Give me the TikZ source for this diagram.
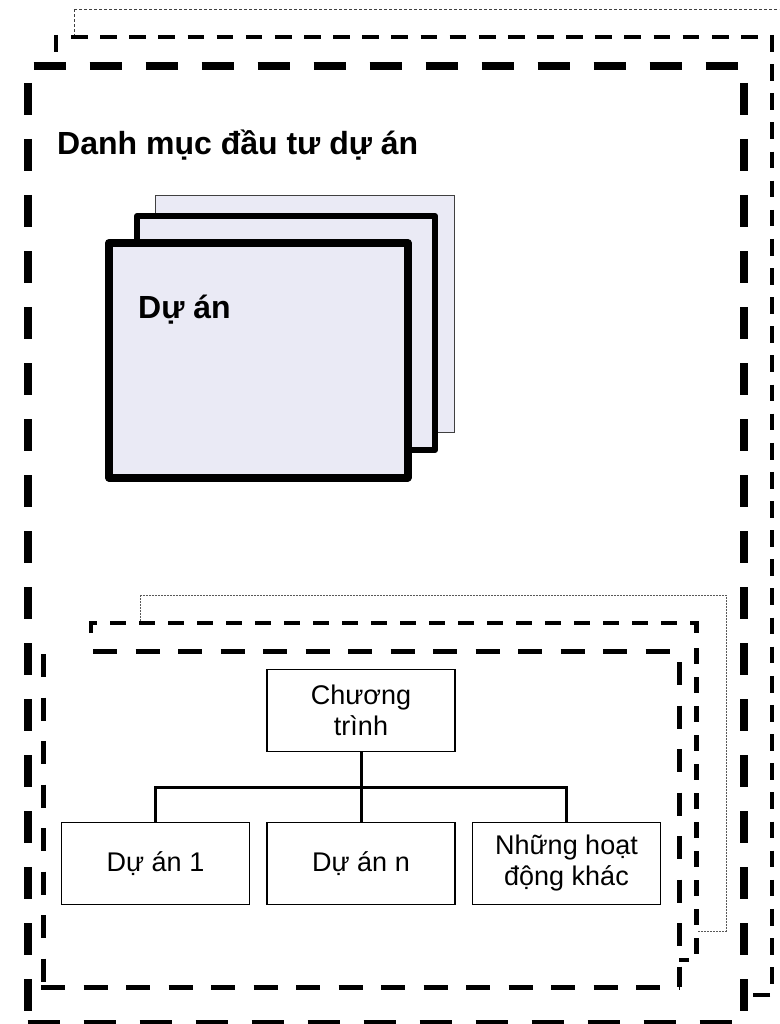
\documentclass[tikz,border=0pt]{standalone}
\usepackage{fontspec}
\setmainfont{Liberation Sans}
\definecolor{lav}{RGB}{234,234,245}
\begin{document}
\begin{tikzpicture}[x=1pt,y=-1pt,
  bigback/.style={draw=black!75, line width=1pt, dash pattern=on 3pt off 2pt, fill=white},
  bigmid/.style={draw=black, line width=4pt, dash pattern=on 16.7pt off 12.43pt},
  bigfront/.style={draw=black, line width=8pt, dash pattern=on 32pt off 24pt},
  smallback/.style={draw=black!65, line width=1pt, dash pattern=on 1.6pt off 1.4pt, fill=white},
  smallmid/.style={draw=black, line width=4.5pt, dash pattern=on 16pt off 13pt},
  smallcorner/.style={draw=black, line width=4.5pt, line join=miter},
  smallfronth/.style={draw=black, line width=5pt, dash pattern=on 24pt off 18.5pt},
  smallfrontv/.style={draw=black, line width=5pt, dash pattern=on 23pt off 20.5pt},
  pagethin/.style={draw=black!75, line width=1pt, fill=lav},
  pagemid/.style={draw=black, line width=6pt, line join=round, fill=lav},
  pagefront/.style={draw=black, line width=8pt, line join=round, fill=lav},
  orgbox/.style={draw=black, line width=1.5pt, fill=white, minimum width=188pt, minimum height=82pt, inner sep=2pt, align=center, font=\fontsize{27}{31}\selectfont},
  conn/.style={draw=black, line width=3pt},
  bigtitle/.style={font=\fontsize{32}{38}\selectfont\bfseries, inner sep=0pt, anchor=base west}
]
\clip (0,0) rectangle (779,1024);
\fill[white] (0,0) rectangle (779,1024);
% ---- big stacked frames ----
\path[bigback] (74,9.5) rectangle (790,1040);
% middle frame
\fill[white] (55.5,37) rectangle (771.5,995);
\draw[bigmid] (71,37) -- (771.5,37);
\draw[bigmid] (55.5,35) -- (55.5,995);
\draw[bigmid] (771.5,35) -- (771.5,995);
\draw[bigmid] (770,995) -- (55.5,995);
% front frame
\fill[white] (27.5,66) rectangle (743.5,1024);
\draw[bigfront] (33.5,66) -- (743.5,66);
\draw[bigfront] (27.5,83) -- (27.5,1024);
\draw[bigfront] (743.5,83) -- (743.5,1024);
\draw[bigfront] (27.5,1024) -- (743.5,1024);
\node[bigtitle] (title) at (57,155) {Danh mục đầu tư dự án};
% ---- project pages ----
\path[pagethin] (155,196) rectangle (454,432);
\path[pagemid] (137,216) rectangle (435,450);
\path[pagefront] (109,243) rectangle (407.5,477.5);
\node[bigtitle] (duan) at (138,318) {Dự án};
% ---- program stacked frames ----
\path[smallback] (140,595) rectangle (726,931);
\fill[white] (91,623) rectangle (696.5,960);
\draw[smallcorner] (91,633) -- (91,623) -- (97,623);
\draw[smallmid] (110,623) -- (690,623);
\draw[smallcorner] (690,623) -- (696.5,623) -- (696.5,633);
\draw[smallmid] (696.5,648) -- (696.5,960);
\draw[smallmid] (689,960) -- (91,960);
\fill[white] (43.5,651) rectangle (679,987);
\draw[smallfronth] (93,651) -- (679,651);
\draw[smallfrontv] (43.5,654) -- (43.5,987);
\draw[smallfrontv] (679,662) -- (679,987);
\draw[smallfronth] (41,987) -- (679,987);
% ---- org chart ----
\node[orgbox] (prog) at (361,710.5) {Chương\\trình};
\node[orgbox] (c1) at (155.5,863.5) {Dự án 1};
\node[orgbox] (c2) at (361,863.5) {Dự án n};
\node[orgbox] (c3) at (566.5,863.5) {Những hoạt\\động khác};
\coordinate (bus) at (361,787);
\draw[conn] (prog.south) -- (bus);
\draw[conn] (c1.north) |- (bus) -| (c3.north);
\draw[conn] (bus) -- (c2.north);
\end{tikzpicture}
\end{document}
